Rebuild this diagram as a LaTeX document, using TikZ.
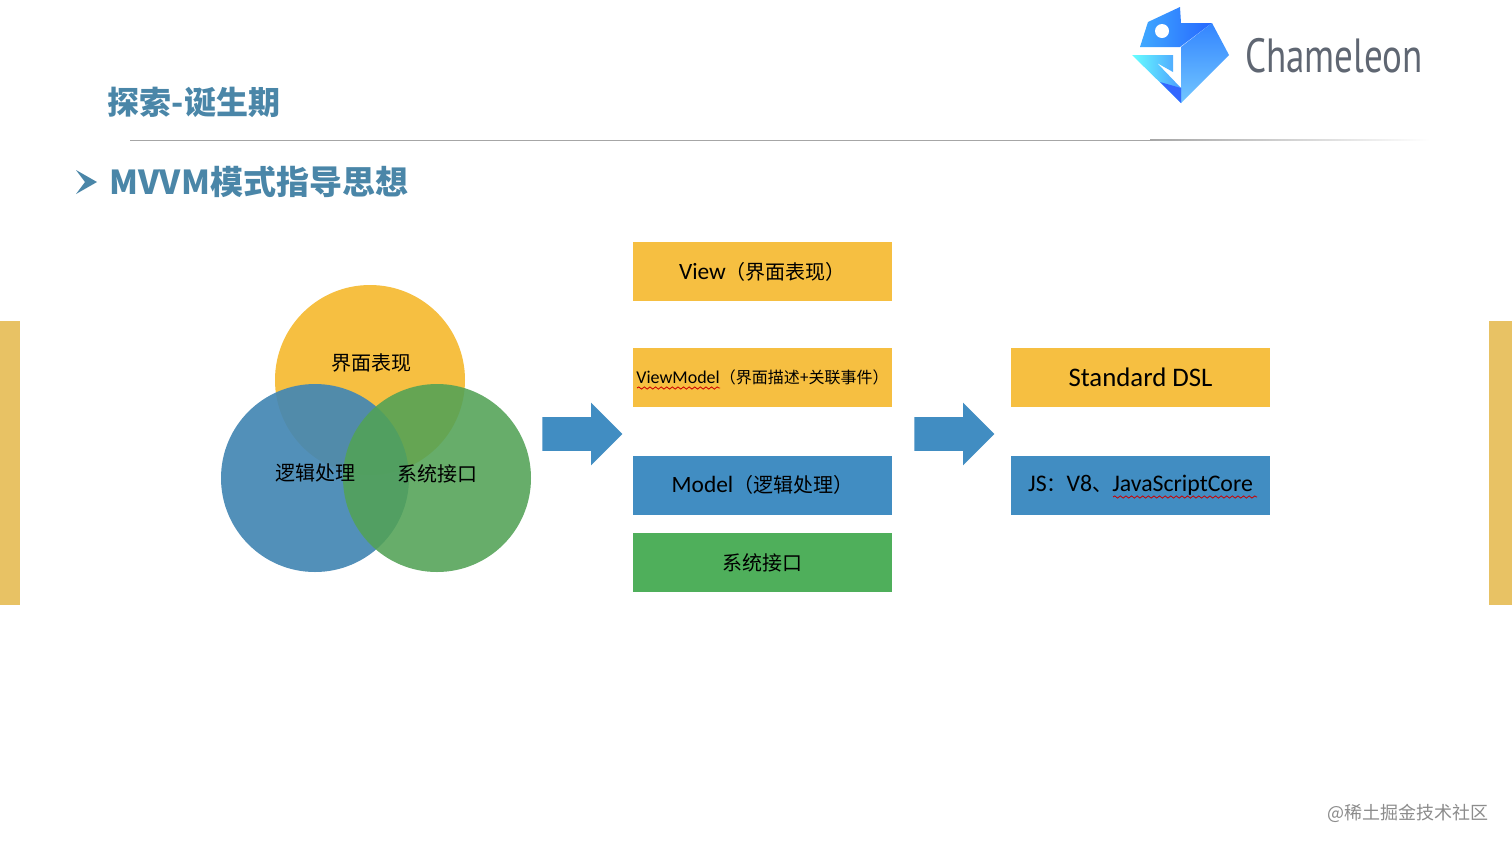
\documentclass[tikz,border=0pt]{standalone}
\usepackage{fontspec}
\setmainfont{Carlito}
\newfontfamily\cjk{Noto Sans CJK SC}
\newfontfamily\logofont{PT Sans}
\usetikzlibrary{shapes.arrows,decorations.pathmorphing}
\definecolor{boxyellow}{HTML}{F6BF41}
\definecolor{boxblue}{HTML}{418DC2}
\definecolor{boxgreen}{HTML}{4FAF5B}
\definecolor{setblue}{HTML}{4487B4}
\definecolor{setgreen}{HTML}{52A256}
\definecolor{headblue}{HTML}{4A86A8}
\definecolor{sidebar}{HTML}{E8C264}
\definecolor{logogray}{HTML}{5F6672}
\tikzset{
  colbox/.style={minimum width=129.5pt,minimum height=29.5pt,inner sep=0pt},
  bigarrow/.style={single arrow,fill=boxblue,inner sep=8.25pt,minimum height=40pt,minimum width=31pt,single arrow head extend=7.25pt},
  setlabel/.style={font=\cjk\fontsize{10}{12}\selectfont,inner sep=0pt},
  squiggle/.style={draw=red!80!black,line width=0.4pt,decorate,decoration={snake,amplitude=0.55pt,segment length=2.8pt}}
}
\begin{document}
\begin{tikzpicture}[x=0.5pt,y=-0.5pt]
\useasboundingbox (0,0) rectangle (1512,847);
\fill[white] (0,0) rectangle (1512,847);
\fill[sidebar] (0,321) rectangle (20,605);
\fill[sidebar] (1489,321) rectangle (1512,605);
\shade[left color=cyan!55!blue!75,right color=blue!70!cyan!85] (1148,22) -- (1180,7) -- (1181,23) -- (1212,23) -- (1180,47) -- (1140,47) -- cycle;
\shade[bottom color=cyan!60!blue!55,top color=cyan!40!blue!80] (1212,23) -- (1229,55) -- (1181,103) -- (1181,47) -- cycle;
\shade[left color=cyan!60,right color=cyan!45!blue!70] (1132,55) -- (1173,55) -- (1173,72) -- (1157,63) -- (1181,88) -- (1181,103) -- cycle;
\fill[blue!75!cyan!80] (1160,82) -- (1181,88) -- (1181,103) -- cycle;
\fill[white] (1162,31) circle (7);
\node[font=\logofont\fontsize{24}{28}\selectfont,text=logogray,xscale=0.77,inner sep=0pt] (logotext) at (1334,56) {Chameleon};
\node[font=\cjk\bfseries\fontsize{16}{20}\selectfont,text=headblue,inner sep=0pt] (pagetitle) at (194,102) {探索-诞生期};
\fill[black!35] (130,139.5) rectangle (1150,140.5);
\shade[left color=black!35,right color=white] (1150,139.5) rectangle (1430,140.5);
\fill[headblue] (76,170) -- (97,182) -- (76,194) -- (85,182) -- cycle;
\node[font=\cjk\bfseries\fontsize{16.5}{20}\selectfont,text=headblue,inner sep=0pt,anchor=west] (subtitle) at (109,182) {MVVM模式指导思想};
\fill[boxyellow] (370,380) circle (95);
\fill[setblue,opacity=0.92] (315,478) circle (94);
\fill[setgreen,opacity=0.88] (437,478) circle (94);
\node[setlabel] (viewset) at (371,363) {界面表现};
\node[setlabel] (modelset) at (315,473) {逻辑处理};
\node[setlabel] (sysset) at (437,474) {系统接口};
\node[bigarrow] (arrowleft) at (574,434) {};
\node[bigarrow] (arrowright) at (946,434) {};
\node[colbox,fill=boxyellow,font=\fontsize{11.7}{14}\selectfont] (viewbox) at (762.5,271.5) {View{\cjk\fontsize{10}{12}\selectfont（界面表现）}};
\node[colbox,fill=boxyellow,font=\fontsize{9}{11}\selectfont] (vmbox) at (762.5,377) {ViewModel{\cjk\fontsize{8}{10}\selectfont（界面描述+关联事件）}};
\node[colbox,fill=boxblue,font=\fontsize{11.7}{14}\selectfont] (modelbox) at (762.5,485) {Model{\cjk\fontsize{10}{12}\selectfont（逻辑处理）}};
\node[colbox,fill=boxgreen,font=\cjk\fontsize{10}{12}\selectfont] (sysbox) at (762.5,562.5) {系统接口};
\node[colbox,fill=boxyellow,font=\fontsize{13.4}{16}\selectfont] (dslbox) at (1140.5,377) {Standard DSL};
\node[colbox,fill=boxblue,font=\fontsize{11.9}{14}\selectfont] (jsbox) at (1140.5,485) {JS{\cjk\fontsize{10}{12}\selectfont：}V8{\cjk\fontsize{10}{12}\selectfont、}JavaScriptCore};
\coordinate (vmwavea) at (637,388);
\coordinate (vmwaveb) at (720,388);
\coordinate (jswavea) at (1113,497);
\coordinate (jswaveb) at (1257,497);
\draw[squiggle] (vmwavea) -- (vmwaveb);
\draw[squiggle] (jswavea) -- (jswaveb);
\node[font=\cjk\fontsize{9}{11}\selectfont,text=black!45,inner sep=0pt,anchor=east] (watermark) at (1489,813) {@稀土掘金技术社区};
\end{tikzpicture}
\end{document}
